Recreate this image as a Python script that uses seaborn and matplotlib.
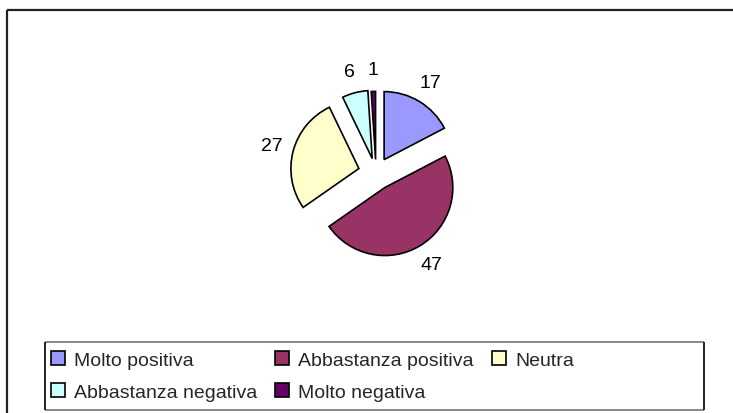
import matplotlib
matplotlib.use("Agg")
import matplotlib.pyplot as plt
import seaborn as sns
from matplotlib.lines import Line2D

categories = ["Molto positiva", "Abbastanza positiva", "Neutra",
              "Abbastanza negativa", "Molto negativa"]
values = [17, 47, 27, 6, 1]
colors = ["#9999FF", "#993366", "#FFFFCC", "#CCFFFF", "#660066"]
explode = [0.23, 0.25, 0.26, 0.22, 0.2]

sns.set_theme(style="white")
plt.rcParams["font.family"] = ["Liberation Sans", "DejaVu Sans"]

W, H = 733, 414
fig = plt.figure(figsize=(W / 100, H / 100), dpi=100)
fig.patch.set_facecolor("white")


def fline(xs, ys, color, lw):
    fig.add_artist(Line2D([x / W for x in xs], [1 - y / H for y in ys],
                          color=color, lw=lw, solid_capstyle="butt"))


# outer frame (left and top edges visible)
fline([6.5, 6.5], [11, 420], "#222222", 1.6)
fline([6.5, 740], [11, 11], "#222222", 1.6)

# pie axes: centre (376,174) px, radius 68 px
cx, cy, half, r = 376, 174, 100, 68
ax = fig.add_axes([(cx - half) / W, (H - cy - half) / H, 2 * half / W, 2 * half / H])
pal = sns.color_palette(colors)
wedges, texts, autotexts = ax.pie(
    values, colors=pal, explode=explode, startangle=90, counterclock=False,
    autopct=lambda p: f"{p * sum(values) / 100:.0f}", pctdistance=1.32,
    wedgeprops=dict(edgecolor="black", linewidth=1.2),
    textprops=dict(fontsize=14, color="black"))
ax.set_xlim(-half / r, half / r)
ax.set_ylim(-half / r, half / r)
ax.set_aspect("equal")
ax.axis("off")

# legend box: grey top/bottom, black sides
fline([45, 704], [343, 343], "#808080", 1.3)
fline([45, 704], [411, 411], "#808080", 1.3)
fline([45, 45], [343, 411], "#111111", 1.3)
fline([704, 704], [343, 411], "#111111", 1.3)

order = [0, 3, 1, 4, 2]
leg = fig.legend([wedges[i] for i in order], [categories[i] for i in order],
                 ncol=3, loc="upper left",
                 bbox_to_anchor=(51 / W, 1 - 352 / H),
                 frameon=False, fontsize=14, borderaxespad=0, borderpad=0,
                 handlelength=0.72, handleheight=0.72, handletextpad=0.45,
                 columnspacing=0.95, labelspacing=0.75)

fig.savefig("out.png", dpi=100)
